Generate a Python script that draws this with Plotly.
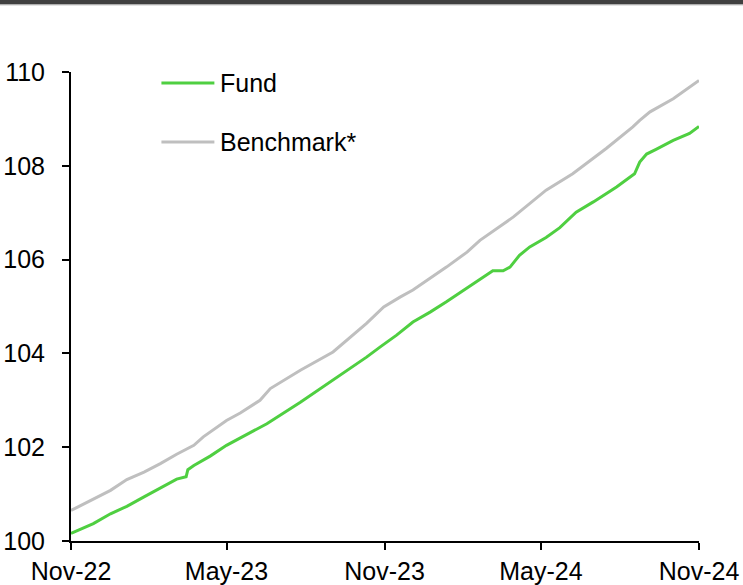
import plotly.graph_objects as go

# ---- data ----
fund_dates = [
    "2022-11-01", "2022-11-27", "2022-12-17", "2023-01-05", "2023-01-25",
    "2023-02-13", "2023-03-04", "2023-03-15", "2023-03-17", "2023-03-24",
    "2023-04-12", "2023-05-01", "2023-05-17", "2023-06-17", "2023-07-26",
    "2023-09-02", "2023-10-11", "2023-10-27", "2023-11-15", "2023-12-04",
    "2023-12-24", "2024-01-12", "2024-02-01", "2024-02-20", "2024-03-06",
    "2024-03-18", "2024-03-26", "2024-04-06", "2024-04-18", "2024-05-07",
    "2024-05-23", "2024-06-11", "2024-07-01", "2024-07-28", "2024-08-18",
    "2024-08-24", "2024-09-01", "2024-09-12", "2024-10-02", "2024-10-21",
    "2024-11-01",
]
fund_values = [
    100.16, 100.37, 100.58, 100.74, 100.94,
    101.13, 101.32, 101.37, 101.52, 101.61,
    101.81, 102.04, 102.20, 102.50, 102.96,
    103.43, 103.92, 104.14, 104.39, 104.67,
    104.88, 105.10, 105.35, 105.59, 105.76,
    105.76, 105.84, 106.09, 106.27, 106.47,
    106.68, 107.01, 107.23, 107.55, 107.83,
    108.08, 108.25, 108.35, 108.54, 108.69,
    108.84,
]

bench_dates = [
    "2022-11-01", "2022-11-27", "2022-12-17", "2023-01-05", "2023-01-25",
    "2023-02-13", "2023-03-04", "2023-03-24", "2023-04-04", "2023-05-01",
    "2023-05-17", "2023-06-09", "2023-06-21", "2023-07-26", "2023-09-02",
    "2023-10-11", "2023-10-31", "2023-11-19", "2023-12-04", "2024-01-12",
    "2024-02-05", "2024-02-20", "2024-03-30", "2024-05-07", "2024-06-07",
    "2024-07-16", "2024-08-16", "2024-08-24", "2024-09-05", "2024-10-02",
    "2024-11-01",
]
bench_values = [
    100.65, 100.90, 101.08, 101.31, 101.47,
    101.65, 101.85, 102.04, 102.22, 102.57,
    102.73, 103.00, 103.25, 103.64, 104.03,
    104.64, 104.99, 105.20, 105.35, 105.84,
    106.16, 106.41, 106.91, 107.48, 107.83,
    108.37, 108.83, 108.97, 109.15, 109.43,
    109.82,
]

series_names = ["Fund", "Benchmark*"]
x_tick_vals = ["2022-11-01", "2023-05-01", "2023-11-01", "2024-05-01", "2024-11-01"]
x_tick_text = ["Nov-22", "May-23", "Nov-23", "May-24", "Nov-24"]
y_tick_vals = [100, 102, 104, 106, 108, 110]

GREEN = "#4FCF41"
GREY = "#BFBFBF"
FONT = "Liberation Sans, Arial, sans-serif"
FS = 25

fig = go.Figure()
fig.add_trace(go.Scatter(x=bench_dates, y=bench_values, mode="lines",
                         name=series_names[1], line=dict(color=GREY, width=3),
                         showlegend=False))
fig.add_trace(go.Scatter(x=fund_dates, y=fund_values, mode="lines",
                         name=series_names[0], line=dict(color=GREEN, width=3),
                         showlegend=False))

W, H = 743, 585
L, R, T, B = 70.5, 44, 71.7, 44.3
pw, ph = W - L - R, H - T - B

def px_x(p):
    return (p - L) / pw

def px_y(p):
    return (H - B - p) / ph

shapes = [
    # dark header band
    dict(type="rect", xref="paper", yref="paper", x0=px_x(-5), x1=px_x(W + 5),
         y0=px_y(4), y1=px_y(-3), fillcolor="#404040", line=dict(width=0), layer="above"),
    dict(type="line", xref="paper", yref="paper", x0=px_x(-5), x1=px_x(W + 5),
         y0=px_y(4.5), y1=px_y(4.5), line=dict(color="#A0A0A0", width=1)),
    # legend keys
    dict(type="line", xref="paper", yref="paper", x0=px_x(161), x1=px_x(214),
         y0=px_y(82.7), y1=px_y(82.7), line=dict(color=GREEN, width=3)),
    dict(type="line", xref="paper", yref="paper", x0=px_x(161), x1=px_x(214),
         y0=px_y(141.7), y1=px_y(141.7), line=dict(color=GREY, width=3)),
]
annotations = [
    dict(text=series_names[0], xref="paper", yref="paper", x=px_x(218), y=px_y(82.7),
         xanchor="left", yanchor="middle", showarrow=False,
         font=dict(family=FONT, size=FS, color="#000000")),
    dict(text=series_names[1], xref="paper", yref="paper", x=px_x(218), y=px_y(141.7),
         xanchor="left", yanchor="middle", showarrow=False,
         font=dict(family=FONT, size=FS, color="#000000")),
]

fig.update_layout(
    width=W, height=H,
    margin=dict(l=L, r=R, t=T, b=B, pad=0, autoexpand=False),
    paper_bgcolor="white", plot_bgcolor="white",
    font=dict(family=FONT, size=FS, color="#000000"),
    shapes=shapes, annotations=annotations,
    xaxis=dict(
        type="date", range=["2022-11-01", "2024-11-01"], automargin=False,
        tickmode="array", tickvals=x_tick_vals, ticktext=x_tick_text,
        showgrid=False, zeroline=False,
        showline=True, linecolor="#000000", linewidth=2,
        ticks="outside", ticklen=7, tickwidth=2, tickcolor="#000000",
        ticklabelstandoff=0,
        tickfont=dict(family=FONT, size=FS, color="#000000"),
    ),
    yaxis=dict(
        range=[100, 110], tickmode="array", tickvals=y_tick_vals, automargin=False,
        showgrid=False, zeroline=False,
        showline=True, linecolor="#000000", linewidth=2,
        ticks="outside", ticklen=7, tickwidth=2, tickcolor="#000000",
        ticklabelstandoff=12,
        tickfont=dict(family=FONT, size=FS, color="#000000"),
    ),
)

fig.write_html("out.html",
               config={"displayModeBar": False},
               post_script="document.body.style.margin='0';document.body.style.overflow='hidden';")
